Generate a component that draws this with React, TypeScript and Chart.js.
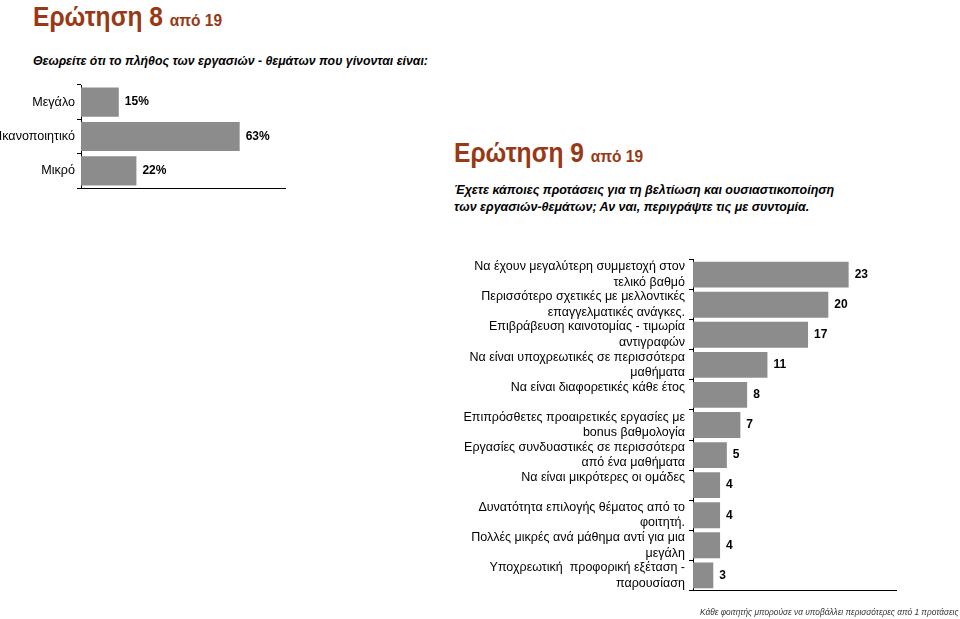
import React, { useEffect, useRef } from "react";
import { Chart, registerables } from "chart.js";

Chart.register(...registerables);

// ---- Data ----
const q8Categories: string[] = ["Μεγάλο", "Ικανοποιητικό", "Μικρό"];
const q8Values: number[] = [15, 63, 22];
const q8Suffix = "%";

const q9Categories: (string | string[])[] = [
  ["Να έχουν μεγαλύτερη συμμετοχή στον", "τελικό βαθμό"],
  ["Περισσότερο σχετικές με μελλοντικές", "επαγγελματικές ανάγκες."],
  ["Επιβράβευση καινοτομίας - τιμωρία", "αντιγραφών"],
  ["Να είναι υποχρεωτικές σε περισσότερα", "μαθήματα"],
  ["Να είναι διαφορετικές κάθε έτος", ""],
  ["Επιπρόσθετες προαιρετικές εργασίες με", "bonus βαθμολογία"],
  ["Εργασίες συνδυαστικές σε περισσότερα", "από ένα μαθήματα"],
  ["Να είναι μικρότερες οι ομάδες", ""],
  ["Δυνατότητα επιλογής θέματος από το", "φοιτητή."],
  ["Πολλές μικρές ανά μάθημα αντί για μια", "μεγάλη"],
  ["Υποχρεωτική  προφορική εξέταση -", "παρουσίαση"],
];
const q9Values: number[] = [23, 20, 17, 11, 8, 7, 5, 4, 4, 4, 3];
const q9Suffix = "";

const FONT = "'Liberation Sans', Arial, Helvetica, sans-serif";
const BAR_COLOR = "#8c8c8c";
const TITLE_COLOR = "#993814";

const valueLabelPlugin = (suffix: string) => ({
  id: "valueLabels",
  afterDatasetsDraw(chart: any) {
    const ctx = chart.ctx;
    const meta = chart.getDatasetMeta(0);
    const data = chart.data.datasets[0].data as number[];
    ctx.save();
    ctx.font = `bold 12px ${FONT}`;
    ctx.fillStyle = "#000";
    ctx.textAlign = "left";
    ctx.textBaseline = "middle";
    meta.data.forEach((bar: any, i: number) => {
      ctx.fillText(String(data[i]) + suffix, bar.x + 6, bar.y);
    });
    ctx.restore();
  },
});

type BarProps = {
  labels: (string | string[])[];
  values: number[];
  suffix: string;
  max: number;
  width: number;
  height: number;
  left: number;
  top: number;
  axisWidth: number;
  padTop: number;
  padBottom: number;
  padRight: number;
  barPct: number;
  tickPad: number;
  fontSize: number;
};

function HBar(p: BarProps) {
  const ref = useRef<HTMLCanvasElement | null>(null);
  useEffect(() => {
    if (!ref.current) return;
    const chart = new Chart(ref.current, {
      type: "bar",
      data: {
        labels: p.labels,
        datasets: [
          {
            data: p.values,
            backgroundColor: BAR_COLOR,
            borderWidth: 0,
            categoryPercentage: 1,
            barPercentage: p.barPct,
          },
        ],
      },
      options: {
        indexAxis: "y",
        animation: false,
        responsive: false,
        maintainAspectRatio: false,
        devicePixelRatio: 1,
        layout: {
          padding: { left: 0, top: p.padTop, bottom: p.padBottom, right: p.padRight },
        },
        plugins: {
          legend: { display: false },
          tooltip: { enabled: false },
        },
        scales: {
          x: {
            min: 0,
            max: p.max,
            ticks: { display: false },
            grid: { display: false },
            border: { display: true, color: "#000", width: 1 },
            afterFit: (s: any) => {
              s.height = 0;
            },
          },
          y: {
            ticks: {
              color: "#000",
              font: { family: FONT, size: p.fontSize, lineHeight: 1.25 },
              padding: p.tickPad,
              autoSkip: false,
            },
            grid: {
              offset: true,
              drawOnChartArea: false,
              drawTicks: true,
              tickLength: 4,
              color: "#000",
            },
            border: { display: true, color: "#000", width: 1 },
            afterFit: (s: any) => {
              s.width = p.axisWidth;
            },
          },
        },
      },
      plugins: [valueLabelPlugin(p.suffix)],
    });
    return () => chart.destroy();
  }, []);
  return (
    <canvas
      ref={ref}
      width={p.width}
      height={p.height}
      style={{ position: "absolute", left: p.left, top: p.top, width: p.width, height: p.height }}
    />
  );
}

const abs = (
  left: number,
  top: number,
  sx: number,
  extra: React.CSSProperties = {}
): React.CSSProperties => ({
  position: "absolute",
  left,
  top,
  whiteSpace: "nowrap",
  fontFamily: FONT,
  margin: 0,
  transform: `scaleX(${sx})`,
  transformOrigin: "0 0",
  ...extra,
});

export default function App() {
  return (
    <div
      style={{
        position: "absolute",
        left: 0,
        top: 0,
        width: 960,
        height: 619,
        background: "#fff",
        overflow: "hidden",
      }}
    >
      <div style={abs(33, 3, 0.91, { color: TITLE_COLOR, fontWeight: "bold", fontSize: 27, lineHeight: "28px" })}>
        Ερώτηση 8 <span style={{ fontSize: 17 }}>από 19</span>
      </div>
      <div style={abs(33, 53, 0.945, { fontWeight: "bold", fontStyle: "italic", fontSize: 13, lineHeight: "16px", color: "#000" })}>
        Θεωρείτε ότι το πλήθος των εργασιών - θεμάτων που γίνονται είναι:
      </div>

      <HBar
        labels={q8Categories}
        values={q8Values}
        suffix={q8Suffix}
        max={81}
        width={300}
        height={125}
        left={0}
        top={75}
        axisWidth={81}
        padTop={10}
        padBottom={12}
        padRight={15}
        barPct={0.85}
        tickPad={2}
        fontSize={12.6}
      />

      <div style={abs(454, 139, 0.91, { color: TITLE_COLOR, fontWeight: "bold", fontSize: 27, lineHeight: "28px" })}>
        Ερώτηση 9 <span style={{ fontSize: 17 }}>από 19</span>
      </div>
      <div style={abs(454, 181, 0.96, { fontWeight: "bold", fontStyle: "italic", fontSize: 13, lineHeight: "17px", color: "#000" })}>
        Έχετε κάποιες προτάσεις για τη βελτίωση και ουσιαστικοποίηση
        <br />
        των εργασιών-θεμάτων; Αν ναι, περιγράψτε τις με συντομία.
      </div>

      <HBar
        labels={q9Categories}
        values={q9Values}
        suffix={q9Suffix}
        max={30}
        width={520}
        height={370}
        left={440}
        top={240}
        axisWidth={253}
        padTop={12}
        padBottom={13}
        padRight={64}
        barPct={0.86}
        tickPad={4}
        fontSize={12.5}
      />

      <div style={abs(700, 606, 0.925, { fontStyle: "italic", fontSize: 9, lineHeight: "12px", color: "#333" })}>
        Κάθε φοιτητής μπορούσε να υποβάλλει περισσότερες από 1 προτάσεις
      </div>
    </div>
  );
}
